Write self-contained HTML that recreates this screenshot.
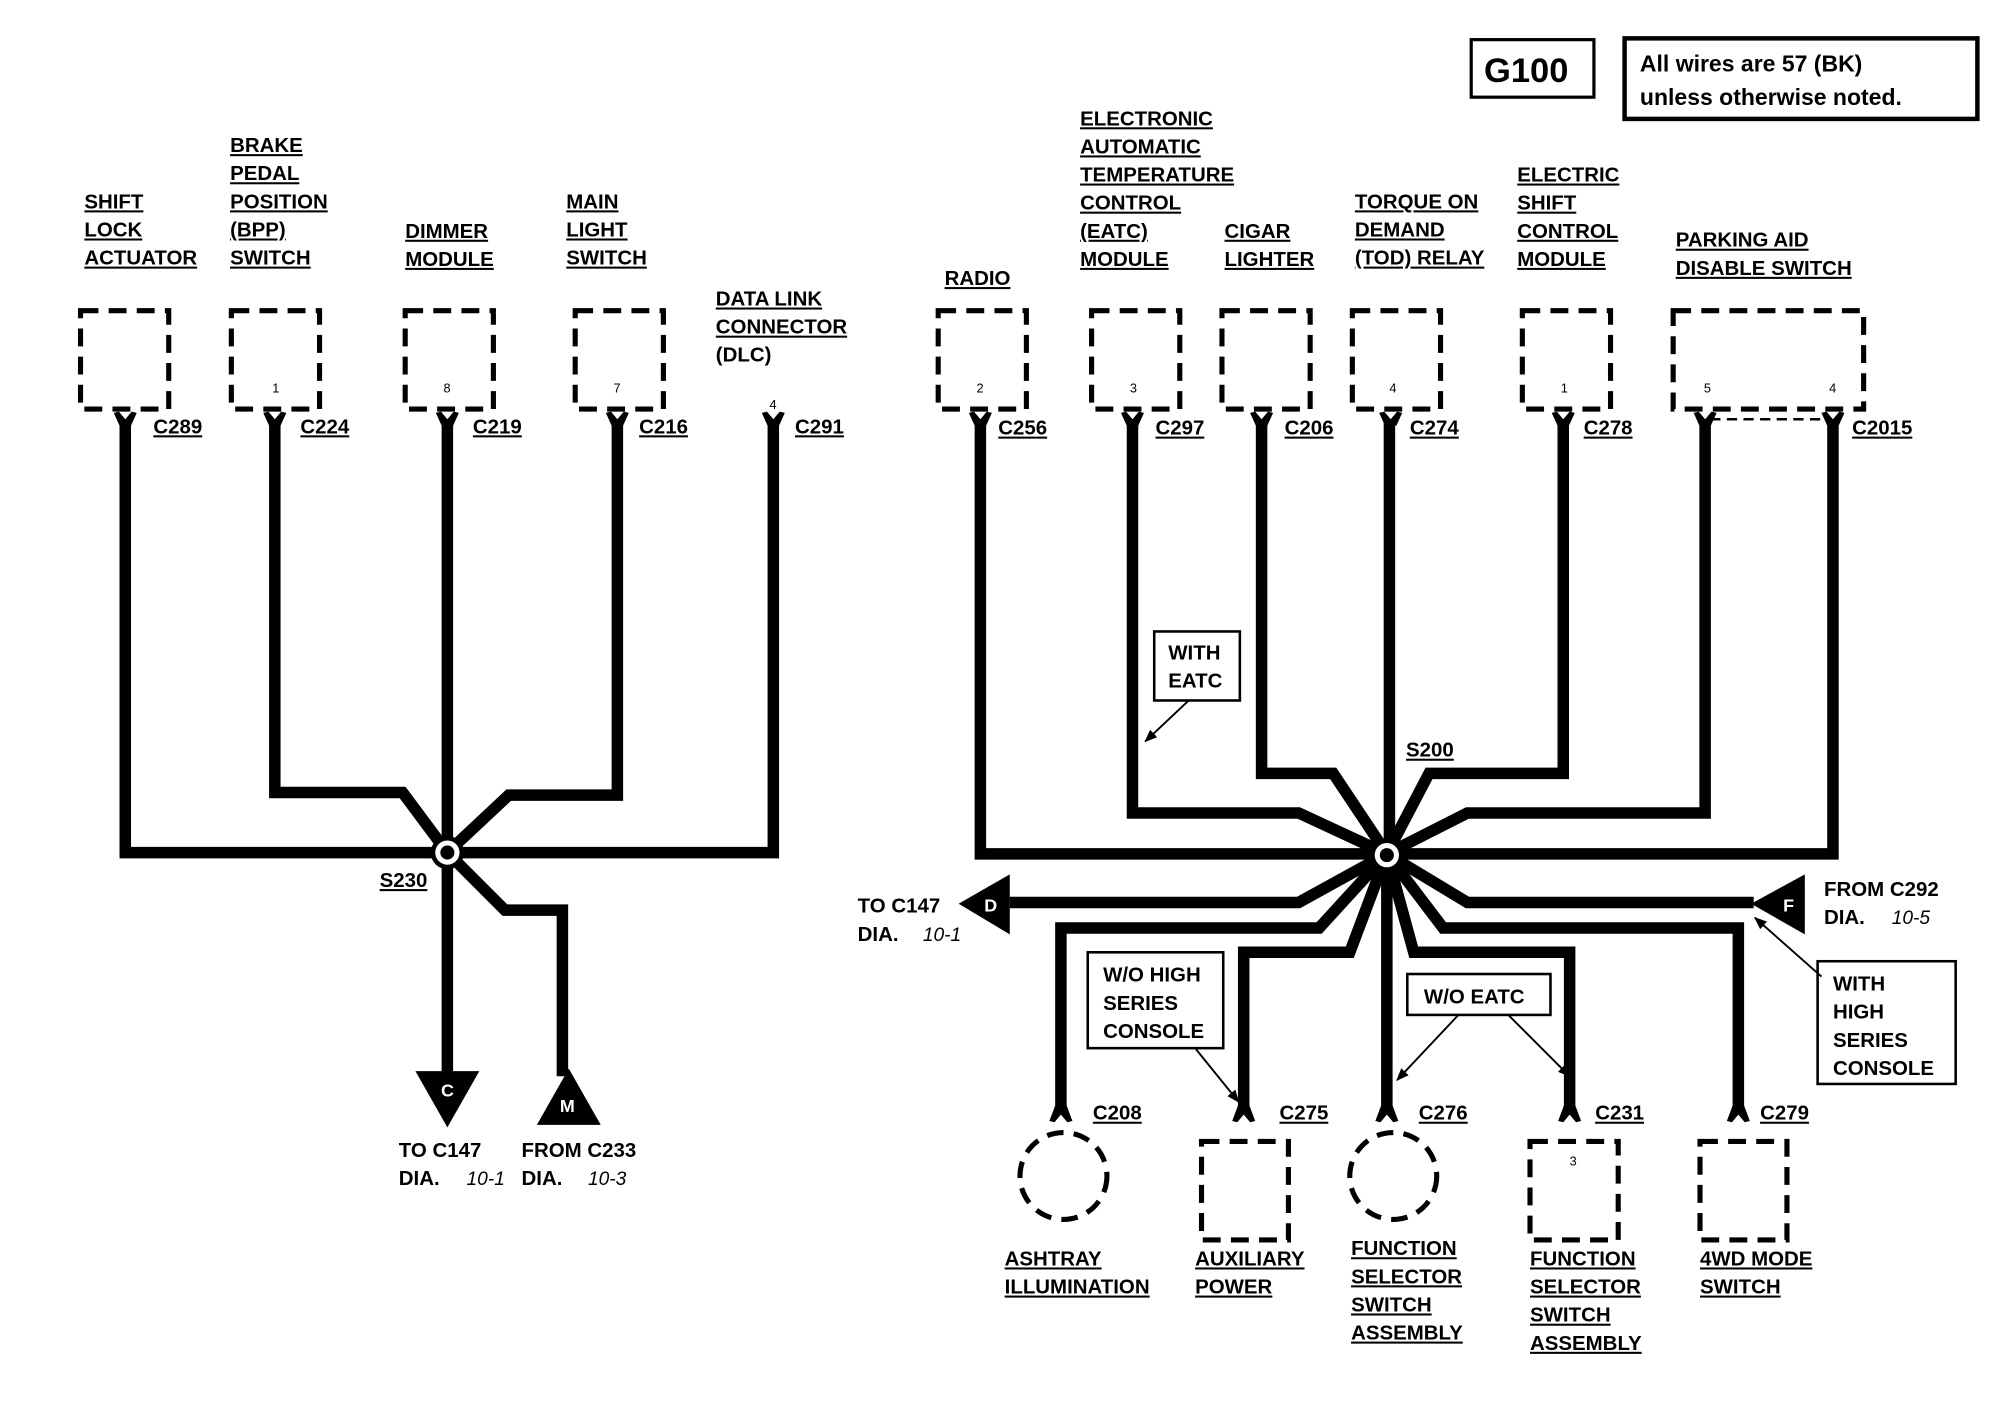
<!DOCTYPE html>
<html><head><meta charset="utf-8"><style>
html,body{margin:0;padding:0;background:#fff;}
svg{display:block;}
.l{font-family:"Liberation Sans",Arial,sans-serif;font-weight:bold;font-size:16px;fill:#000;text-decoration:underline;}
.n{font-family:"Liberation Sans",Arial,sans-serif;font-weight:bold;font-size:16px;fill:#000;}
.i{font-family:"Liberation Sans",Arial,sans-serif;font-style:italic;font-size:15px;fill:#000;}
.s{font-family:"Liberation Sans",Arial,sans-serif;font-size:10px;fill:#000;}
.w{font-family:"Liberation Sans",Arial,sans-serif;font-weight:bold;font-size:14px;fill:#fff;}
.wire{fill:none;stroke:#000;stroke-width:9;stroke-linejoin:miter;}
.box{fill:none;stroke:#000;stroke-width:4;stroke-dasharray:14 8;}
.thin{fill:none;stroke:#000;stroke-width:2;}
</style></head><body>
<svg width="1994" height="1408" viewBox="0 0 1560 1101.5" xmlns="http://www.w3.org/2000/svg">
<defs>
<marker id="ah" markerWidth="10" markerHeight="10" refX="9" refY="5" orient="auto" markerUnits="userSpaceOnUse"><path d="M0,1 L10,5 L0,9 Z" fill="#000"/></marker>
<g id="cu"><polygon points="-9,323 -5,322 0,328 5,322 9,323 4.5,333 -4.5,333" fill="#000"/></g>
<g id="cd"><polygon points="-4.5,865 4.5,865 9,877 5,878 0,872 -5,878 -9,877" fill="#000"/></g>
</defs>

<!-- ===== LEFT ===== -->
<text class="l" x="66" y="163">SHIFT</text><text class="l" x="66" y="185">LOCK</text><text class="l" x="66" y="207">ACTUATOR</text>
<text class="l" x="180" y="119">BRAKE</text><text class="l" x="180" y="141">PEDAL</text><text class="l" x="180" y="163">POSITION</text><text class="l" x="180" y="185">(BPP)</text><text class="l" x="180" y="207">SWITCH</text>
<text class="l" x="317" y="186">DIMMER</text><text class="l" x="317" y="208">MODULE</text>
<text class="l" x="443" y="163">MAIN</text><text class="l" x="443" y="185">LIGHT</text><text class="l" x="443" y="207">SWITCH</text>
<text class="l" x="560" y="239">DATA LINK</text><text class="l" x="560" y="261">CONNECTOR</text><text class="n" x="560" y="283">(DLC)</text>

<rect class="box" x="63" y="243" width="69" height="77"/>
<rect class="box" x="181" y="243" width="69" height="77"/><text class="s" x="213" y="307">1</text>
<rect class="box" x="317" y="243" width="69" height="77"/><text class="s" x="347" y="307">8</text>
<rect class="box" x="450" y="243" width="69" height="77"/><text class="s" x="480" y="307">7</text>
<text class="s" x="602" y="320">4</text>

<use href="#cu" x="98"/><use href="#cu" x="215"/><use href="#cu" x="350"/><use href="#cu" x="483"/><use href="#cu" x="605"/>
<text class="l" x="120" y="339">C289</text><text class="l" x="235" y="339">C224</text><text class="l" x="370" y="339">C219</text><text class="l" x="500" y="339">C216</text><text class="l" x="622" y="339">C291</text>

<polyline class="wire" points="98,330 98,667 350,667"/>
<polyline class="wire" points="215,330 215,620 315,620 350,667"/>
<line class="wire" x1="350" y1="330" x2="350" y2="842"/>
<polyline class="wire" points="483,330 483,622 398,622 350,667"/>
<polyline class="wire" points="605,330 605,667 350,667"/>
<polyline class="wire" points="350,667 395,712 440,712 440,842"/>
<circle cx="350" cy="667" r="13" fill="#000"/><circle cx="350" cy="667" r="9.5" fill="#fff"/><circle cx="350" cy="667" r="5.5" fill="#000"/>
<text class="l" x="297" y="694">S230</text>

<polygon points="325,838 375,838 350,882" fill="#000"/><text class="w" x="345" y="858">C</text>
<polygon points="420,880 470,880 445,836" fill="#000"/><text class="w" x="438" y="870">M</text>
<text class="n" x="312" y="905">TO C147</text><text class="n" x="312" y="927">DIA.</text><text class="i" x="365" y="927">10-1</text>
<text class="n" x="408" y="905">FROM C233</text><text class="n" x="408" y="927">DIA.</text><text class="i" x="460" y="927">10-3</text>

<!-- ===== RIGHT ===== -->
<rect x="1151" y="31" width="96" height="45" fill="none" stroke="#000" stroke-width="2.5"/>
<text x="1161" y="64" style="font-family:'Liberation Sans',Arial,sans-serif;font-size:27px;font-weight:bold">G100</text>
<rect x="1271" y="30" width="276" height="63" fill="none" stroke="#000" stroke-width="3.5"/>
<text x="1283" y="56" style="font-family:'Liberation Sans',Arial,sans-serif;font-size:18px;font-weight:bold">All wires are 57 (BK)</text>
<text x="1283" y="82" style="font-family:'Liberation Sans',Arial,sans-serif;font-size:18px;font-weight:bold">unless otherwise noted.</text>

<text class="l" x="739" y="223">RADIO</text>
<text class="l" x="845" y="98">ELECTRONIC</text><text class="l" x="845" y="120">AUTOMATIC</text><text class="l" x="845" y="142">TEMPERATURE</text><text class="l" x="845" y="164">CONTROL</text><text class="l" x="845" y="186">(EATC)</text><text class="l" x="845" y="208">MODULE</text>
<text class="l" x="958" y="186">CIGAR</text><text class="l" x="958" y="208">LIGHTER</text>
<text class="l" x="1060" y="163">TORQUE ON</text><text class="l" x="1060" y="185">DEMAND</text><text class="l" x="1060" y="207">(TOD) RELAY</text>
<text class="l" x="1187" y="142">ELECTRIC</text><text class="l" x="1187" y="164">SHIFT</text><text class="l" x="1187" y="186">CONTROL</text><text class="l" x="1187" y="208">MODULE</text>
<text class="l" x="1311" y="193">PARKING AID</text><text class="l" x="1311" y="215">DISABLE SWITCH</text>

<rect class="box" x="734" y="243" width="69" height="77"/><text class="s" x="764" y="307">2</text>
<rect class="box" x="854" y="243" width="69" height="77"/><text class="s" x="884" y="307">3</text>
<rect class="box" x="956" y="243" width="69" height="77"/>
<rect class="box" x="1058" y="243" width="69" height="77"/><text class="s" x="1087" y="307">4</text>
<rect class="box" x="1191" y="243" width="69" height="77"/><text class="s" x="1221" y="307">1</text>
<rect class="box" x="1309" y="243" width="149" height="77"/><text class="s" x="1333" y="307">5</text><text class="s" x="1431" y="307">4</text>
<line x1="1338" y1="328" x2="1430" y2="328" stroke="#000" stroke-width="2" stroke-dasharray="8 5"/>

<use href="#cu" x="767"/><use href="#cu" x="886"/><use href="#cu" x="987"/><use href="#cu" x="1088"/><use href="#cu" x="1223"/><use href="#cu" x="1334"/><use href="#cu" x="1434"/>
<text class="l" x="781" y="340">C256</text><text class="l" x="904" y="340">C297</text><text class="l" x="1005" y="340">C206</text><text class="l" x="1103" y="340">C274</text><text class="l" x="1239" y="340">C278</text><text class="l" x="1449" y="340">C2015</text>

<polyline class="wire" points="767,330 767,668 1085,668"/>
<polyline class="wire" points="886,330 886,636 1016,636 1085,668"/>
<polyline class="wire" points="987,330 987,605 1043,605 1085,668"/>
<line class="wire" x1="1087" y1="330" x2="1087" y2="668"/>
<polyline class="wire" points="1223,330 1223,605 1118,605 1085,668"/>
<polyline class="wire" points="1334,330 1334,636 1148,636 1085,668"/>
<polyline class="wire" points="1434,330 1434,668 1085,668"/>
<polyline class="wire" points="1085,668 1016,706 790,706"/>
<polyline class="wire" points="1085,668 1148,706 1372,706"/>
<polyline class="wire" points="830,866 830,726 1032,726 1085,668"/>
<polyline class="wire" points="973,866 973,745 1056,745 1085,668"/>
<line class="wire" x1="1085" y1="668" x2="1085" y2="866"/>
<polyline class="wire" points="1228,866 1228,745 1106,745 1085,668"/>
<polyline class="wire" points="1360,866 1360,726 1129,726 1085,668"/>
<circle cx="1085" cy="669" r="13" fill="#000"/><circle cx="1085" cy="669" r="9.5" fill="#fff"/><circle cx="1085" cy="669" r="5.5" fill="#000"/>
<text class="l" x="1100" y="592">S200</text>

<rect x="903" y="494" width="67" height="54" class="thin"/>
<text class="n" x="914" y="516">WITH</text><text class="n" x="914" y="538">EATC</text>
<line x1="930" y1="548" x2="896" y2="580" stroke="#000" stroke-width="1.5" marker-end="url(#ah)"/>

<polygon points="750,707 790,684 790,731" fill="#000"/><text class="w" x="770" y="713">D</text>
<text class="n" x="671" y="714">TO C147</text><text class="n" x="671" y="736">DIA.</text><text class="i" x="722" y="736">10-1</text>
<polygon points="1370,707 1412,684 1412,731" fill="#000"/><text class="w" x="1395" y="713">F</text>
<text class="n" x="1427" y="701">FROM C292</text><text class="n" x="1427" y="723">DIA.</text><text class="i" x="1480" y="723">10-5</text>

<rect x="1422" y="752" width="108" height="96" class="thin"/>
<text class="n" x="1434" y="775">WITH</text><text class="n" x="1434" y="797">HIGH</text><text class="n" x="1434" y="819">SERIES</text><text class="n" x="1434" y="841">CONSOLE</text>
<line x1="1425" y1="764" x2="1373" y2="718" stroke="#000" stroke-width="1.5" marker-end="url(#ah)"/>

<rect x="851" y="745" width="106" height="75" class="thin"/>
<text class="n" x="863" y="768">W/O HIGH</text><text class="n" x="863" y="790">SERIES</text><text class="n" x="863" y="812">CONSOLE</text>
<line x1="935" y1="820" x2="969" y2="862" stroke="#000" stroke-width="1.5" marker-end="url(#ah)"/>

<rect x="1101" y="762" width="112" height="32" class="thin"/>
<text class="n" x="1114" y="785">W/O EATC</text>
<line x1="1141" y1="794" x2="1093" y2="845" stroke="#000" stroke-width="1.5" marker-end="url(#ah)"/>
<line x1="1180" y1="794" x2="1228" y2="842" stroke="#000" stroke-width="1.5" marker-end="url(#ah)"/>

<use href="#cd" x="830"/><use href="#cd" x="973"/><use href="#cd" x="1085"/><use href="#cd" x="1228"/><use href="#cd" x="1360"/>
<text class="l" x="855" y="876">C208</text><text class="l" x="1001" y="876">C275</text><text class="l" x="1110" y="876">C276</text><text class="l" x="1248" y="876">C231</text><text class="l" x="1377" y="876">C279</text>

<circle cx="832" cy="920" r="34" class="box" style="stroke-dasharray:13 8"/>
<rect class="box" x="940" y="893" width="68" height="77"/>
<circle cx="1090" cy="920" r="34" class="box" style="stroke-dasharray:13 8"/>
<rect class="box" x="1197" y="893" width="69" height="77"/><text class="s" x="1228" y="912">3</text>
<rect class="box" x="1330" y="893" width="68" height="77"/>

<text class="l" x="786" y="990">ASHTRAY</text><text class="l" x="786" y="1012">ILLUMINATION</text>
<text class="l" x="935" y="990">AUXILIARY</text><text class="l" x="935" y="1012">POWER</text>
<text class="l" x="1057" y="982">FUNCTION</text><text class="l" x="1057" y="1004">SELECTOR</text><text class="l" x="1057" y="1026">SWITCH</text><text class="l" x="1057" y="1048">ASSEMBLY</text>
<text class="l" x="1197" y="990">FUNCTION</text><text class="l" x="1197" y="1012">SELECTOR</text><text class="l" x="1197" y="1034">SWITCH</text><text class="l" x="1197" y="1056">ASSEMBLY</text>
<text class="l" x="1330" y="990">4WD MODE</text><text class="l" x="1330" y="1012">SWITCH</text>
</svg>
</body></html>
